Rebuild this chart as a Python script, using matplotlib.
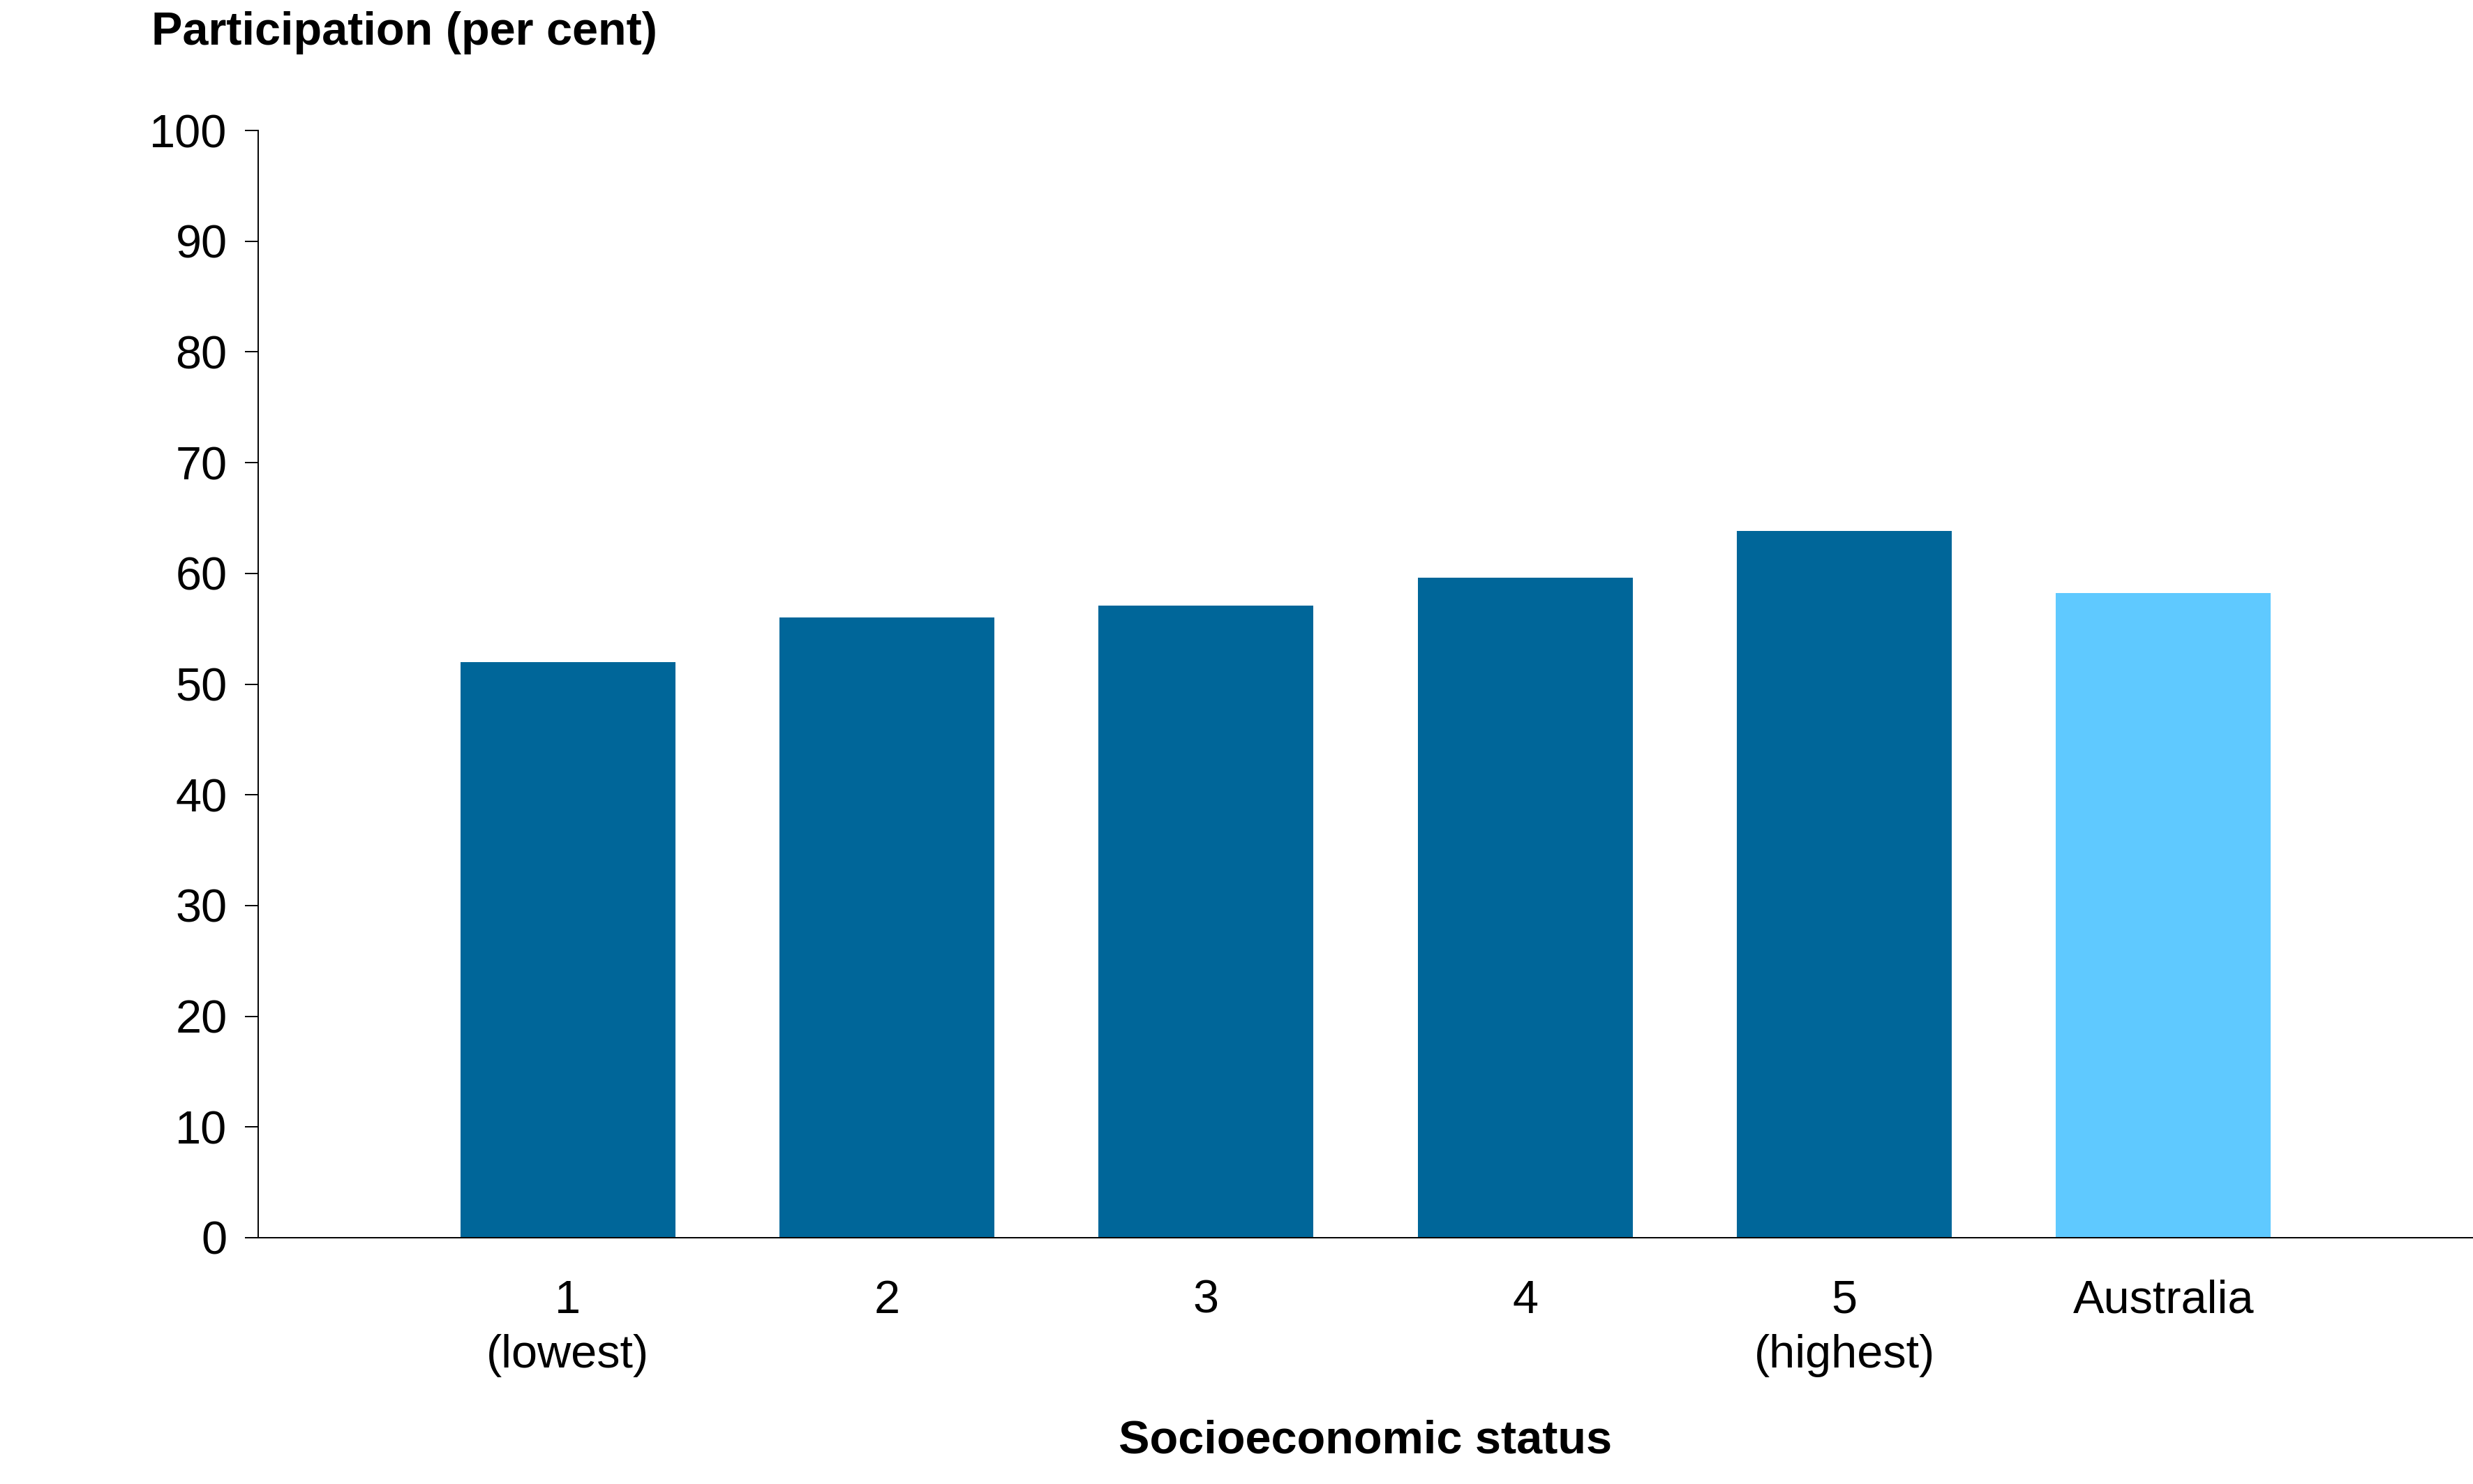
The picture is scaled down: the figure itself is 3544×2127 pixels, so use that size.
"""Participation by socioeconomic status bar chart."""

import matplotlib

matplotlib.use("Agg")
import matplotlib.pyplot as plt

categories = ["1\n(lowest)", "2", "3", "4", "5\n(highest)", "Australia"]
participation = [52.0, 56.0, 57.1, 59.6, 63.8, 58.2]
bar_colors = ["#006699", "#006699", "#006699", "#006699", "#006699", "#5FC9FF"]
y_ticks = [0, 10, 20, 30, 40, 50, 60, 70, 80, 90, 100]

plt.rcParams["font.family"] = ["Liberation Sans", "DejaVu Sans"]

W, H, DPI = 3544, 2127, 200
FS = 24
fig = plt.figure(figsize=(W / DPI, H / DPI), dpi=DPI)
ax = fig.add_axes([370 / W, 353 / H, 1 - 370 / W, (1774 - 187) / H])

x = range(len(categories))
ax.bar(x, participation, width=0.674, color=bar_colors, zorder=2)

ax.set_xlim(-0.97, 5.97)
ax.set_ylim(0, 100)
ax.set_yticks(y_ticks)
ax.set_xticks(list(x))
ax.set_xticklabels(categories, fontsize=FS, linespacing=1.33)
ax.tick_params(axis="y", labelsize=FS, length=7, width=0.7, pad=9, color="black")
ax.tick_params(axis="x", length=0, pad=21.5)

for side in ("top", "right"):
    ax.spines[side].set_visible(False)
for side in ("left", "bottom"):
    ax.spines[side].set_linewidth(0.7)
    ax.spines[side].set_color("black")

ax.set_xlabel("Socioeconomic status", fontsize=FS, fontweight="bold", labelpad=22)
fig.text(217 / W, (H - 64) / H, "Participation (per cent)", fontsize=FS,
         fontweight="bold", ha="left", va="baseline")

fig.savefig("out.png", dpi=DPI, facecolor="white")
